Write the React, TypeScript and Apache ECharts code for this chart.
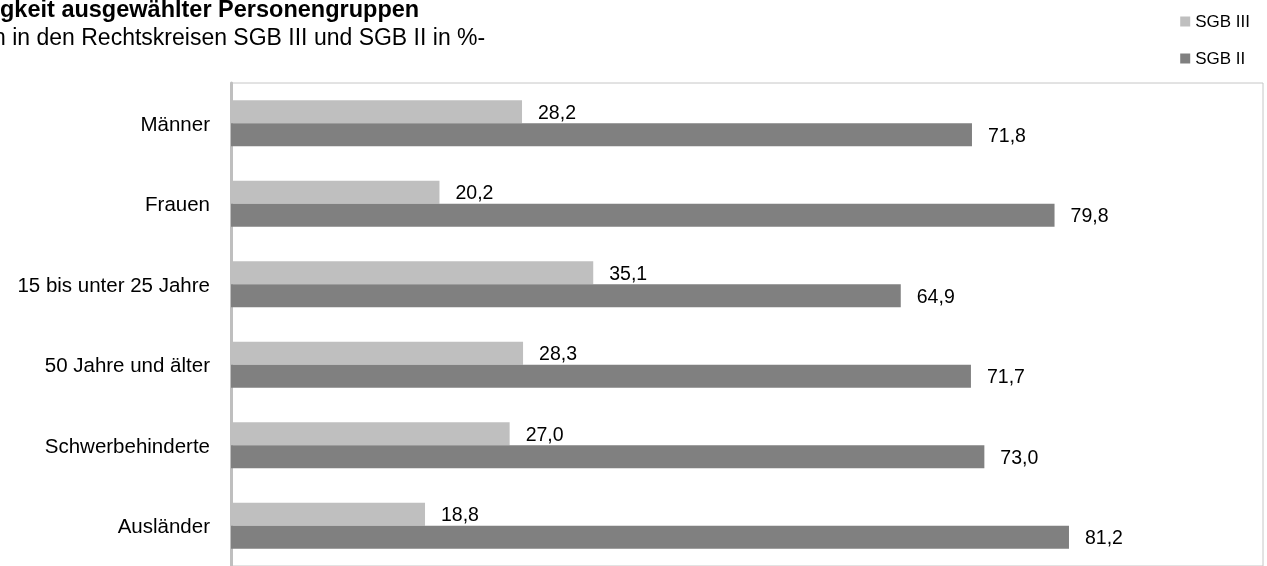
import React, { useEffect, useRef } from "react";
import * as echarts from "echarts";

const categories = ["Männer", "Frauen", "15 bis unter 25 Jahre", "50 Jahre und älter", "Schwerbehinderte", "Ausländer"];
const sgb3 = [28.2, 20.2, 35.1, 28.3, 27.0, 18.8];
const sgb2 = [71.8, 79.8, 64.9, 71.7, 73.0, 81.2];
const titleText = "gkeit ausgewählter Personengruppen";
const subtitleText = "n in den Rechtskreisen SGB III und SGB II in %-";

const FONT = "Liberation Sans, Arial, sans-serif";

export default function App() {
  const ref = useRef<HTMLDivElement>(null);
  useEffect(() => {
    if (!ref.current) return;
    const chart = echarts.init(ref.current, undefined, { renderer: "svg" });
    const fmt = (p: any) => Number(p.value).toFixed(1).replace(".", ",");
    chart.setOption({
      animation: false,
      textStyle: { fontFamily: FONT },
      graphic: [
        { type: "text", left: 0, top: -3, style: { text: titleText, font: `bold 23.5px ${FONT}`, fill: "#000" } },
        { type: "text", left: -7, top: 25, style: { text: subtitleText, font: `23px ${FONT}`, fill: "#000" } },
      ],
      legend: {
        orient: "vertical",
        right: 12,
        top: 8,
        itemWidth: 10,
        itemHeight: 10,
        itemGap: 20,
        icon: "rect",
        textStyle: { fontSize: 17, color: "#000", fontFamily: FONT },
        data: ["SGB III", "SGB II"],
      },
      grid: { left: 231, right: 4, top: 83, height: 490, containLabel: false, show: true, borderColor: "#c6c6c6", borderWidth: 1 },
      xAxis: {
        type: "value",
        min: 0,
        max: 100,
        show: false,
        splitLine: { show: false },
      },
      yAxis: {
        type: "category",
        inverse: true,
        data: categories,
        axisLine: { show: true, lineStyle: { color: "#bfbfbf", width: 3 } },
        axisTick: { show: false },
        axisLabel: { fontSize: 20.5, color: "#000", margin: 21, fontFamily: FONT },
      },
      series: [
        {
          name: "SGB III",
          type: "bar",
          data: sgb3,
          barWidth: 23,
          barGap: "0%",
          itemStyle: { color: "#bfbfbf" },
          label: { show: true, position: "right", distance: 16, formatter: fmt, fontSize: 19.5, color: "#000", fontFamily: FONT },
        },
        {
          name: "SGB II",
          type: "bar",
          data: sgb2,
          barWidth: 23,
          barGap: "0%",
          itemStyle: { color: "#808080" },
          label: { show: true, position: "right", distance: 16, formatter: fmt, fontSize: 19.5, color: "#000", fontFamily: FONT },
        },
      ],
    });
    return () => chart.dispose();
  }, []);
  return <div ref={ref} style={{ position: "fixed", left: 0, top: 0, width: 1267, height: 566 }} />;
}
